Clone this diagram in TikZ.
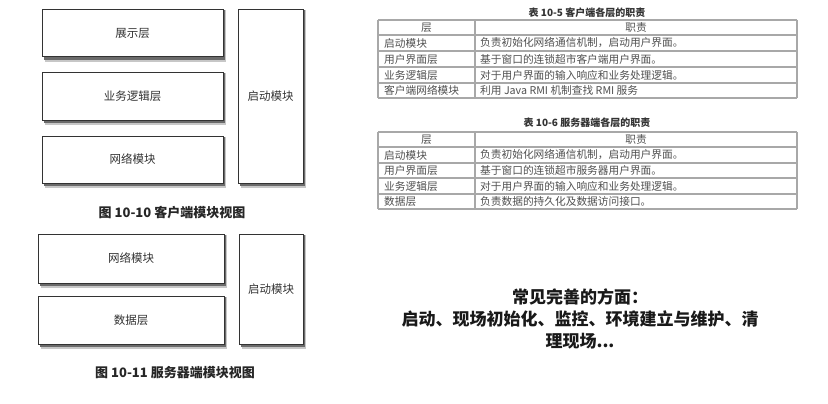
\documentclass[tikz,border=0pt]{standalone}
\usepackage{fontspec}
\setmainfont{Noto Sans CJK SC}
\usetikzlibrary{backgrounds}
\definecolor{boxline}{HTML}{333333}
\definecolor{tabline}{HTML}{A8A8A8}
\definecolor{tabtext}{HTML}{505050}
\tikzset{
  modbox/.style={draw=boxline, line width=1pt, fill=white, rectangle, inner sep=0pt,
    font=\fontsize{11.5}{13}\selectfont, text=black!80},
  figcap/.style={font=\fontsize{13}{15}\selectfont\bfseries, text=black!85},
  tabcap/.style={font=\fontsize{10}{12}\selectfont\bfseries, text=black!80},
  tabcell/.style={font=\fontsize{10.7}{12}\selectfont, text=tabtext, anchor=west, inner sep=0pt},
  tabhead/.style={font=\fontsize{10.7}{12}\selectfont, text=tabtext, inner sep=0pt},
  tabrule/.style={draw=tabline, line width=1.1pt},
  note/.style={font=\fontsize{17}{22}\selectfont\bfseries, align=center, text=black!90},
  softshadow/.style={fill=black!22},
  hardshadow/.style={fill=black!58}
}
\begin{document}
\begin{tikzpicture}[x=1pt,y=-1pt]
\useasboundingbox (0,0) rectangle (828,404);

% client module view
\node[modbox, minimum width=181pt, minimum height=47pt] (c1) at (132.5,33.5) {展示层};
\node[modbox, minimum width=181pt, minimum height=47pt] (c2) at (132.5,96.5) {业务逻辑层};
\node[modbox, minimum width=181pt, minimum height=47pt] (c3) at (132.5,159.5) {网络模块};
\node[modbox, minimum width=65pt, minimum height=173pt] (c4) at (270.5,96.5) {启动模块};
\node[figcap] (cap1) at (172,213) {图\ 10-10 客户端模块视图};

% server module view
\node[modbox, minimum width=186pt, minimum height=49pt] (s1) at (131,258.5) {网络模块};
\node[modbox, minimum width=186pt, minimum height=48pt] (s2) at (131,320) {数据层};
\node[modbox, minimum width=64pt, minimum height=110pt] (s3) at (271,289) {启动模块};
\node[figcap] (cap2) at (175,373) {图\ 10-11 服务器端模块视图};

% shadows behind boxes
\begin{scope}[on background layer]
\fill[white] (0,0) rectangle (828,404);
\foreach \b in {c1,c2,c3,c4,s1,s2,s3} {
  \fill[softshadow] ([shift={(3,1)}]\b.north west) rectangle ([shift={(2.5,4.5)}]\b.south east);
  \fill[hardshadow] ([shift={(2,1)}]\b.north west) rectangle ([shift={(1.6,2.8)}]\b.south east);
}
\end{scope}

% table 10-5
\node[tabcap] (t1cap) at (587,13) {表\ 10-5 客户端各层的职责};
\foreach \y in {20,35,51,67,83,98} \draw[tabrule] (378,\y) -- (797,\y);
\draw[tabrule] (378,20) -- (378,98);
\draw[tabrule] (475,20) -- (475,98);
\draw[tabrule] (797,20) -- (797,98);
\node[tabhead] (t1h1) at (426.5,27.5) {层};
\node[tabhead] (t1h2) at (636,27.5) {职责};
\node[tabcell] (t1a1) at (384,43) {启动模块};
\node[tabcell] (t1b1) at (480,43) {负责初始化网络通信机制，启动用户界面。};
\node[tabcell] (t1a2) at (384,59) {用户界面层};
\node[tabcell] (t1b2) at (480,59) {基于窗口的连锁超市客户端用户界面。};
\node[tabcell] (t1a3) at (384,75) {业务逻辑层};
\node[tabcell] (t1b3) at (480,75) {对于用户界面的输入响应和业务处理逻辑。};
\node[tabcell] (t1a4) at (384,90.5) {客户端网络模块};
\node[tabcell] (t1b4) at (480,90.5) {利用 Java RMI 机制查找 RMI 服务};

% table 10-6
\node[tabcap] (t2cap) at (587,123) {表\ 10-6 服务器端各层的职责};
\foreach \y in {132,147,163,178,194,209} \draw[tabrule] (378,\y) -- (797,\y);
\draw[tabrule] (378,132) -- (378,209);
\draw[tabrule] (475,132) -- (475,209);
\draw[tabrule] (797,132) -- (797,209);
\node[tabhead] (t2h1) at (426.5,139.5) {层};
\node[tabhead] (t2h2) at (636,139.5) {职责};
\node[tabcell] (t2a1) at (384,155) {启动模块};
\node[tabcell] (t2b1) at (480,155) {负责初始化网络通信机制，启动用户界面。};
\node[tabcell] (t2a2) at (384,170.5) {用户界面层};
\node[tabcell] (t2b2) at (480,170.5) {基于窗口的连锁超市服务器用户界面。};
\node[tabcell] (t2a3) at (384,186) {业务逻辑层};
\node[tabcell] (t2b3) at (480,186) {对于用户界面的输入响应和业务处理逻辑。};
\node[tabcell] (t2a4) at (384,201.5) {数据层};
\node[tabcell] (t2b4) at (480,201.5) {负责数据的持久化及数据访问接口。};

% note
\node[note] (n1) at (580,319) {常见完善的方面：\\启动、现场初始化、监控、环境建立与维护、清\\理现场...};
\end{tikzpicture}
\end{document}
